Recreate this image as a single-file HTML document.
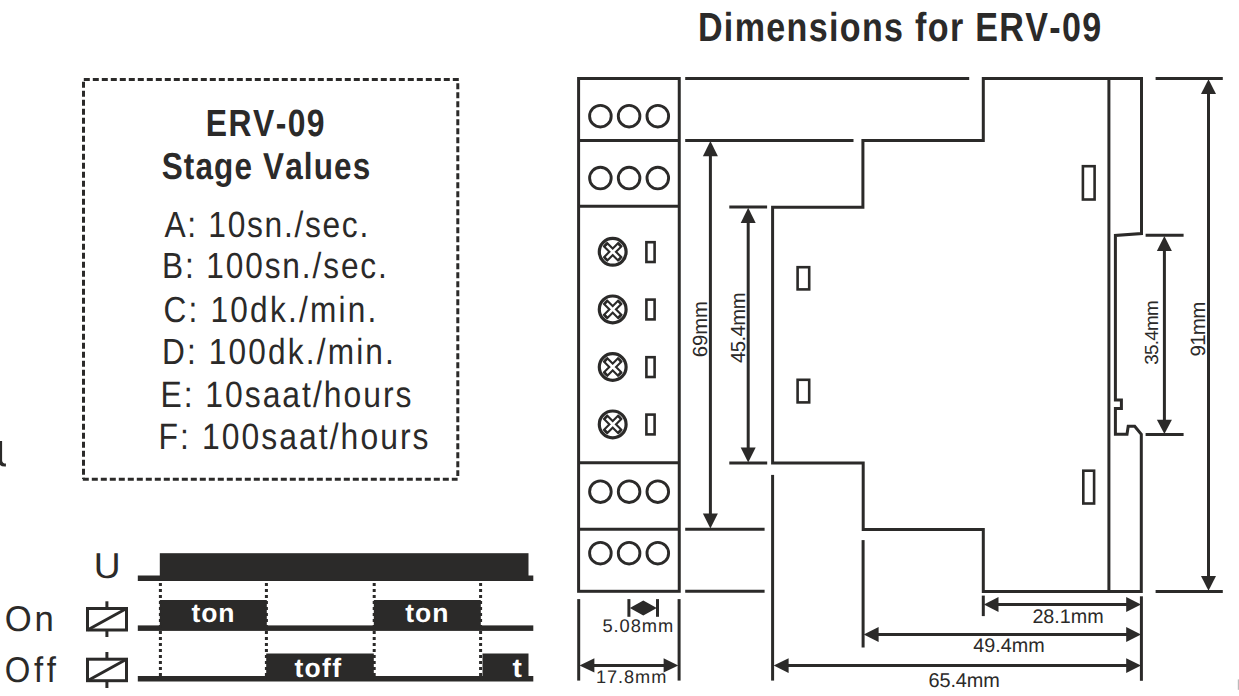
<!DOCTYPE html>
<html>
<head>
<meta charset="utf-8">
<style>
html,body{margin:0;padding:0;background:#fff;}
body{width:1239px;height:696px;overflow:hidden;}
svg{display:block;}
text{font-family:"Liberation Sans",sans-serif;font-kerning:none;font-variant-ligatures:none;text-rendering:geometricPrecision;}
</style>
</head>
<body>
<svg width="1239" height="696" viewBox="0 0 1239 696">
<rect x="0" y="0" width="1239" height="696" fill="#fff"/>
<!-- dashed box -->
<g stroke="#2b2a29" stroke-width="3" stroke-dasharray="6 3" fill="none">
<line x1="83.8" y1="79.5" x2="459.2" y2="79.5"/>
<line x1="83.5" y1="81.8" x2="83.5" y2="479"/>
<line x1="82.8" y1="479.3" x2="457.6" y2="479.3"/>
<line x1="457.8" y1="83.3" x2="457.8" y2="476"/>
</g>
<!-- timing diagram -->
<g fill="#2b2a29">
<rect x="137.8" y="575.5" width="395.5" height="5.5"/>
<rect x="159.8" y="553.2" width="368.7" height="27"/>
<rect x="137.8" y="625.4" width="395.5" height="5.5"/>
<rect x="159.8" y="600" width="107" height="30"/>
<rect x="373.8" y="600" width="107" height="30"/>
<rect x="137.8" y="676" width="395.5" height="5.5"/>
<rect x="266.2" y="653.5" width="107.6" height="27"/>
<rect x="482.5" y="653.5" width="46" height="27"/>
</g>
<g stroke="#2b2a29" stroke-width="3" stroke-dasharray="3 3" fill="none">
<line x1="160.4" y1="583" x2="160.4" y2="676"/>
<line x1="266.4" y1="583" x2="266.4" y2="676"/>
<line x1="374.2" y1="583" x2="374.2" y2="676"/>
<line x1="480.6" y1="583" x2="480.6" y2="676"/>
</g>
<!-- relays -->
<g stroke="#2b2a29" stroke-width="3" fill="none">
<rect x="87.5" y="608.5" width="39" height="21.5"/>
<line x1="87.5" y1="630" x2="126.5" y2="608.5"/>
<line x1="106.9" y1="601.3" x2="106.9" y2="608.5"/>
<line x1="106.9" y1="630" x2="106.9" y2="637"/>
<rect x="87.5" y="659.2" width="39" height="21.5"/>
<line x1="87.5" y1="680.7" x2="126.5" y2="659.2"/>
<line x1="106.9" y1="652" x2="106.9" y2="659.2"/>
<line x1="106.9" y1="680.7" x2="106.9" y2="688"/>
</g>
<!-- device drawing -->
<g stroke="#2b2a29" stroke-width="3" fill="none" stroke-linecap="butt">
<rect x="578.6" y="78.5" width="100.65" height="512.8"/>
<line x1="578.6" y1="140.5" x2="679.25" y2="140.5"/>
<line x1="578.6" y1="206.2" x2="679.25" y2="206.2"/>
<line x1="578.6" y1="462.8" x2="679.25" y2="462.8"/>
<line x1="578.6" y1="529.2" x2="679.25" y2="529.2"/>
<g stroke-width="2.6">
<circle cx="600.4" cy="116.2" r="10.8" stroke-width="2.9"/><circle cx="629.1" cy="116.2" r="10.8" stroke-width="2.9"/><circle cx="657.8" cy="116.2" r="10.8" stroke-width="2.9"/>
<circle cx="600.4" cy="178.1" r="10.8" stroke-width="2.9"/><circle cx="629.1" cy="178.1" r="10.8" stroke-width="2.9"/><circle cx="657.8" cy="178.1" r="10.8" stroke-width="2.9"/>
<circle cx="600.4" cy="491.7" r="10.8" stroke-width="2.9"/><circle cx="629.1" cy="491.7" r="10.8" stroke-width="2.9"/><circle cx="657.8" cy="491.7" r="10.8" stroke-width="2.9"/>
<circle cx="600.4" cy="553.2" r="10.8" stroke-width="2.9"/><circle cx="629.1" cy="553.2" r="10.8" stroke-width="2.9"/><circle cx="657.8" cy="553.2" r="10.8" stroke-width="2.9"/>
<rect x="646.4" y="242.2" width="8.2" height="19.8"/>
<rect x="646.4" y="299.6" width="8.2" height="19.8"/>
<rect x="646.4" y="357.2" width="8.2" height="19.8"/>
<rect x="646.4" y="414.6" width="8.2" height="19.8"/>
<rect x="797.6" y="267.2" width="11.6" height="22.2"/>
<rect x="797.6" y="379.8" width="11.6" height="22.6"/>
<rect x="1082.9" y="166.2" width="11.7" height="33.3"/>
<rect x="1083.3" y="470.7" width="10.8" height="32.8"/>
</g>
<path d="M772.6 463 V207.2 H862.9 V140.5 H983.3 V78.5 H1141.5 V233.6 L1115.4 235.4 V400.1 H1121.4 V408.6 H1115.4 V434.3 H1127 L1128.2 426.2 H1134.7 L1141.3 434.3 V591.4 H983.3 V529.4 H863.2 V463 Z"/>
<line x1="1108.9" y1="78.5" x2="1108.9" y2="591.4"/>
<line x1="685.2" y1="78.5" x2="969.2" y2="78.5"/>
<line x1="685.2" y1="140.4" x2="853.5" y2="140.4"/>
<line x1="685.2" y1="529.2" x2="764.6" y2="529.2"/>
<line x1="685.2" y1="591.3" x2="764.6" y2="591.3"/>
<line x1="729.3" y1="207.1" x2="767.1" y2="207.1"/>
<line x1="729.3" y1="463" x2="767.2" y2="463"/>
<line x1="1145.6" y1="235.3" x2="1183.6" y2="235.3"/>
<line x1="1145.6" y1="434.5" x2="1183.6" y2="434.5"/>
<line x1="1155.6" y1="78.6" x2="1222.8" y2="78.6"/>
<line x1="1155.6" y1="591.4" x2="1222.8" y2="591.4"/>
<line x1="772.6" y1="474.9" x2="772.6" y2="680.6"/>
<line x1="863.1" y1="540.1" x2="863.1" y2="647.5"/>
<line x1="983.3" y1="595.6" x2="983.3" y2="616.1"/>
<line x1="1141.4" y1="596.3" x2="1141.4" y2="680.8"/>
<line x1="578.7" y1="599.1" x2="578.7" y2="680.6"/>
<line x1="679.1" y1="599.1" x2="679.1" y2="680.6"/>
<line x1="628.9" y1="599.1" x2="628.9" y2="616.8"/>
<line x1="657.5" y1="599.1" x2="657.5" y2="616.8"/>
<line x1="710.4" y1="150" x2="710.4" y2="520"/>
<line x1="748.2" y1="218" x2="748.2" y2="454"/>
<line x1="1164.4" y1="245" x2="1164.4" y2="425"/>
<line x1="1208.5" y1="88" x2="1208.5" y2="582"/>
<line x1="993" y1="604.5" x2="1132" y2="604.5"/>
<line x1="873" y1="634.5" x2="1132" y2="634.5"/>
<line x1="782" y1="665.6" x2="1132" y2="665.6"/>
<line x1="588" y1="665.4" x2="670" y2="665.4"/>
</g>
<!-- arrowheads -->
<g fill="#2b2a29">
<path d="M710.4 141 L702.9 156.2 L717.9 156.2 Z"/>
<path d="M710.4 528.6 L702.9 513.6 L717.9 513.6 Z"/>
<path d="M748.2 207.7 L740.7 223 L755.7 223 Z"/>
<path d="M748.2 462.4 L740.7 447.4 L755.7 447.4 Z"/>
<path d="M1164.4 235.9 L1156.9 250.9 L1171.9 250.9 Z"/>
<path d="M1164.4 434 L1156.9 419.7 L1171.9 419.7 Z"/>
<path d="M1208.5 79.2 L1201 94 L1216 94 Z"/>
<path d="M1208.5 590.8 L1201 576 L1216 576 Z"/>
<path d="M983.9 604.5 L998.5 597.1 L998.5 611.9 Z"/>
<path d="M1141 604.5 L1126.2 597.1 L1126.2 611.9 Z"/>
<path d="M863.7 634.5 L878.6 627.1 L878.6 641.9 Z"/>
<path d="M1141 634.5 L1126.2 627.1 L1126.2 641.9 Z"/>
<path d="M773.7 665.6 L788.6 658.2 L788.6 673 Z"/>
<path d="M1141 665.6 L1126.2 658.2 L1126.2 673 Z"/>
<path d="M579.5 665.4 L594.4 658.2 L594.4 672.6 Z"/>
<path d="M678.3 665.4 L663.6 658.2 L663.6 672.6 Z"/>
<path d="M629.8 608 L643.3 600.5 L656.8 608 L643.3 615.5 Z"/>
</g>
<!-- screws -->
<defs>
<clipPath id="sc"><circle cx="0" cy="0" r="11.3"/></clipPath>
<g id="screw">
<circle cx="0" cy="0" r="13.4" fill="#fff" stroke="#2b2a29" stroke-width="3.2"/>
<g clip-path="url(#sc)">
<path d="M-9 -9 L9 9 M9 -9 L-9 9" stroke="#2b2a29" stroke-width="6.8"/>
<path d="M-6 -6 L6 6 M6 -6 L-6 6" stroke="#fff" stroke-width="2.6"/>
</g>
</g>
</defs>
<use href="#screw" x="612.7" y="251.8"/>
<use href="#screw" x="612.7" y="309.4"/>
<use href="#screw" x="612.7" y="367"/>
<use href="#screw" x="612.7" y="424.4"/>
<!-- edge artifacts -->
<path d="M0 441 H2.1 V460.5 Q2.3 463.6 5.9 463.6 V466.6 Q1.5 466.8 0 465 Z" fill="#2b2a29"/>
<rect x="1237.8" y="679.4" width="1.2" height="10.4" fill="#bbb"/>

<text transform="translate(697.92,41.40) scale(0.8400,1)" x="0" y="0" font-size="40.55" font-weight="bold" fill="#2b2a29" letter-spacing="1.587">Dimensions for ERV-09</text>
<text transform="translate(205.87,135.80) scale(0.8400,1)" x="0" y="0" font-size="37.94" font-weight="bold" fill="#2b2a29" letter-spacing="1.699">ERV-09</text>
<text transform="translate(161.69,178.50) scale(0.8400,1)" x="0" y="0" font-size="37.50" font-weight="bold" fill="#2b2a29" letter-spacing="1.353">Stage Values</text>
<text transform="translate(164.44,236.80) scale(0.8700,1)" x="0" y="0" font-size="36.48" fill="#2b2a29" letter-spacing="1.952">A: 10sn./sec.</text>
<text transform="translate(161.91,278.40) scale(0.8700,1)" x="0" y="0" font-size="36.34" fill="#2b2a29" letter-spacing="2.179">B: 100sn./sec.</text>
<text transform="translate(163.39,321.70) scale(0.8700,1)" x="0" y="0" font-size="36.34" fill="#2b2a29" letter-spacing="2.562">C: 10dk./min.</text>
<text transform="translate(161.91,363.60) scale(0.8700,1)" x="0" y="0" font-size="36.34" fill="#2b2a29" letter-spacing="2.490">D: 100dk./min.</text>
<text transform="translate(160.39,406.90) scale(0.8700,1)" x="0" y="0" font-size="36.63" fill="#2b2a29" letter-spacing="2.287">E: 10saat/hours</text>
<text transform="translate(158.59,448.60) scale(0.8700,1)" x="0" y="0" font-size="36.63" fill="#2b2a29" letter-spacing="2.362">F: 100saat/hours</text>
<text transform="translate(93.63,578.20) scale(1.0308,1)" x="0" y="0" font-size="36.05" fill="#2b2a29" letter-spacing="0.000">U</text>
<text transform="translate(4.66,631.40) scale(0.9700,1)" x="0" y="0" font-size="35.76" fill="#2b2a29" letter-spacing="3.018">On</text>
<text transform="translate(4.74,681.80) scale(0.9200,1)" x="0" y="0" font-size="35.76" fill="#2b2a29" letter-spacing="3.991">Off</text>
<text transform="translate(602.47,632.30) scale(1.0000,1)" x="0" y="0" font-size="18.31" fill="#2b2a29" letter-spacing="0.917">5.08mm</text>
<text transform="translate(596.02,683.20) scale(1.0000,1)" x="0" y="0" font-size="18.17" fill="#2b2a29" letter-spacing="0.930">17.8mm</text>
<text transform="translate(1032.41,623.00) scale(1.0000,1)" x="0" y="0" font-size="19.77" fill="#2b2a29" letter-spacing="-0.042">28.1mm</text>
<text transform="translate(973.35,652.00) scale(1.0000,1)" x="0" y="0" font-size="19.77" fill="#2b2a29" letter-spacing="0.010">49.4mm</text>
<text transform="translate(928.49,687.00) scale(1.0000,1)" x="0" y="0" font-size="19.91" fill="#2b2a29" letter-spacing="-0.122">65.4mm</text>
<text transform="translate(707.30,0) rotate(-90) translate(-357.13,0) scale(1.0000,1)" x="0" y="0" font-size="20.35" fill="#2b2a29" letter-spacing="-0.121">69mm</text>
<text transform="translate(744.60,0) rotate(-90) translate(-363.07,0) scale(1.0000,1)" x="0" y="0" font-size="20.35" fill="#2b2a29" letter-spacing="-0.540">45.4mm</text>
<text transform="translate(1158.00,0) rotate(-90) translate(-364.82,0) scale(1.0000,1)" x="0" y="0" font-size="18.90" fill="#2b2a29" letter-spacing="-0.758">35.4mm</text>
<text transform="translate(1204.70,0) rotate(-90) translate(-356.47,0) scale(1.0000,1)" x="0" y="0" font-size="20.64" fill="#2b2a29" letter-spacing="-0.839">91mm</text>
<text transform="translate(191.38,622.00) scale(1.0000,1)" x="0" y="0" font-size="26.50" font-weight="bold" fill="#fff" letter-spacing="0.984">ton</text>
<text transform="translate(405.28,622.00) scale(1.0000,1)" x="0" y="0" font-size="26.50" font-weight="bold" fill="#fff" letter-spacing="0.984">ton</text>
<text transform="translate(294.48,676.80) scale(1.0000,1)" x="0" y="0" font-size="26.50" font-weight="bold" fill="#fff" letter-spacing="1.271">toff</text>
<text transform="translate(512.56,676.80) scale(1.0639,1)" x="0" y="0" font-size="26.50" font-weight="bold" fill="#fff" letter-spacing="0.000">t</text>
</svg>
</body>
</html>
